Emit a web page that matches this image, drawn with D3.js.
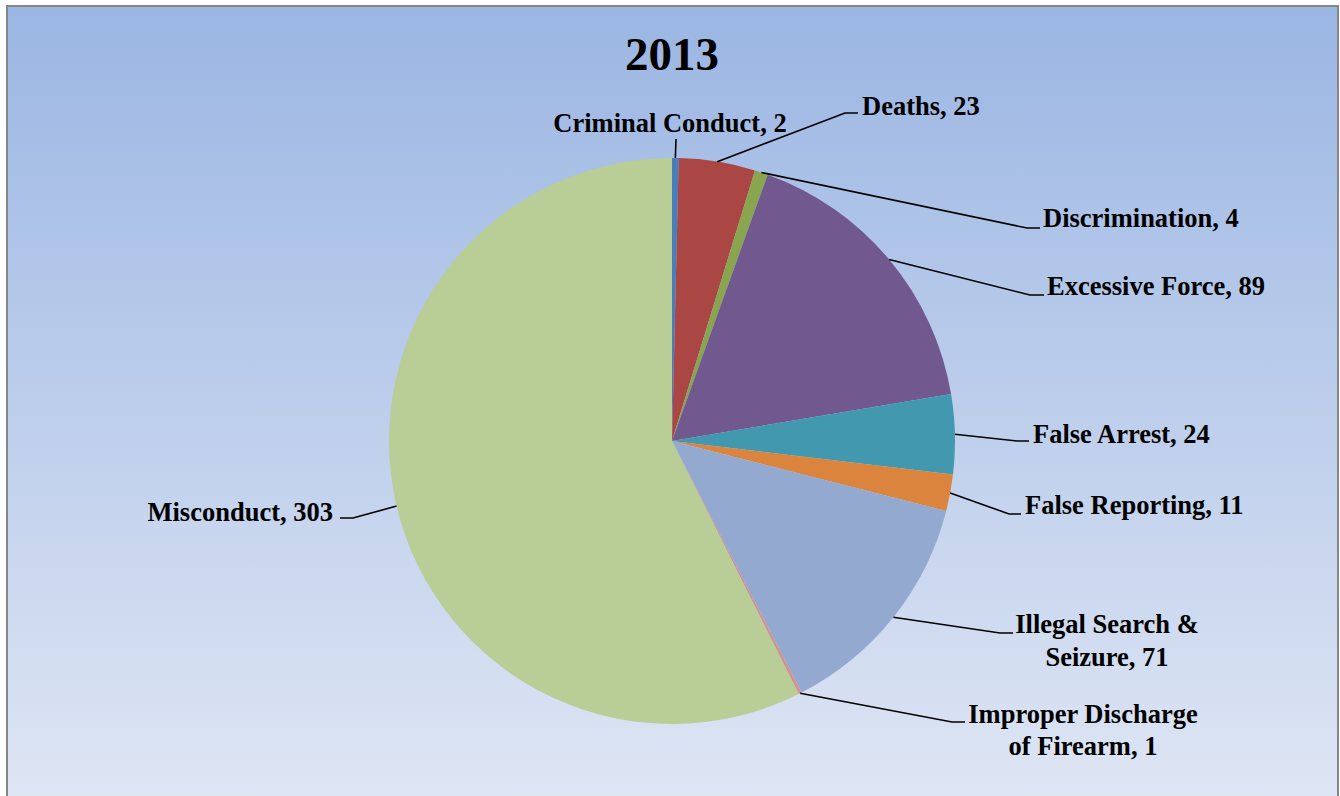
<!DOCTYPE html>
<html>
<head>
<meta charset="utf-8">
<script src="https://cdn.jsdelivr.net/npm/d3@7"></script>
<style>
  html, body { margin: 0; padding: 0; background: #ffffff; }
  svg { display: block; }
  text { font-family: "Liberation Serif", "Times New Roman", serif; font-weight: bold; fill: #000; }
</style>
</head>
<body>
<svg id="chart" width="1340" height="796"></svg>
<script>
// Complaint categories for 2013 and their counts
const categories = [
  "Criminal Conduct", "Deaths", "Discrimination", "Excessive Force",
  "False Arrest", "False Reporting", "Illegal Search & Seizure",
  "Improper Discharge of Firearm", "Misconduct"
];
const counts = [2, 23, 4, 89, 24, 11, 71, 1, 303];
const title = "2013";

// Label text lines per slice (the long names wrap onto two lines)
const labelLines = [
  ["Criminal Conduct, 2"],
  ["Deaths, 23"],
  ["Discrimination, 4"],
  ["Excessive Force, 89"],
  ["False Arrest, 24"],
  ["False Reporting, 11"],
  ["Illegal Search &", "Seizure, 71"],
  ["Improper Discharge", "of Firearm, 1"],
  ["Misconduct, 303"]
];

const colors = ["#4A7EBB", "#AA4643", "#89A54E", "#71588F", "#4198AF",
                "#DB843D", "#93A9CF", "#D19392", "#B9CD96"];

const svg = d3.select("#chart");
const W = 1340, H = 796;

// Plot-area background: vertical blue gradient
const defs = svg.append("defs");
const grad = defs.append("linearGradient")
  .attr("id", "bg").attr("x1", 0).attr("y1", 0).attr("x2", 0).attr("y2", 1);
grad.append("stop").attr("offset", "0%").attr("stop-color", "#9BB6E3");
grad.append("stop").attr("offset", "100%").attr("stop-color", "#DFE6F4");

svg.append("rect").attr("x", 0).attr("y", 0).attr("width", W).attr("height", H).attr("fill", "#ffffff");
svg.append("rect")
  .attr("x", 7).attr("y", 6).attr("width", 1331).attr("height", 800)
  .attr("fill", "url(#bg)")
  .attr("stroke", "#868686").attr("stroke-width", 2);

// Title
svg.append("text")
  .attr("x", 672).attr("y", 70)
  .attr("text-anchor", "middle")
  .style("font-size", "47px")
  .text(title);

const cx = 672, cy = 441, r = 283;
const g = svg.append("g").attr("transform", `translate(${cx},${cy})`);

const pie = d3.pie().sort(null).value(d => d.value);
const data = categories.map((c, i) => ({ name: c, value: counts[i], i }));
const arcs = pie(data);
const arc = d3.arc().innerRadius(0).outerRadius(r);

g.selectAll("path.slice")
  .data(arcs)
  .enter().append("path")
  .attr("class", "slice")
  .attr("d", arc)
  .attr("fill", d => colors[d.data.i])
  .attr("stroke", "none");

// Label layout: elbow point of the leader line, text anchor point and alignment
const labelLayout = [
  { elbow: null,        tx: 670,  ty: 132, anchor: "middle", end: [676, 139] },
  { elbow: [845, 113],  tx: 862,  ty: 115, anchor: "start",  end: [858, 113] },
  { elbow: [1027, 228], tx: 1043, ty: 227, anchor: "start",  end: [1040, 228] },
  { elbow: [1030, 295], tx: 1047, ty: 295, anchor: "start",  end: [1044, 295] },
  { elbow: [1017, 441], tx: 1033, ty: 443, anchor: "start",  end: [1029, 441] },
  { elbow: [1009, 514], tx: 1025, ty: 514, anchor: "start",  end: [1021, 514] },
  { elbow: [1000, 633], tx: 1107, ty: 633, anchor: "middle", end: [1013, 633], dy: 33 },
  { elbow: [952, 722],  tx: 1083, ty: 723, anchor: "middle", end: [965, 722], dy: 32 },
  { elbow: [353, 518],  tx: 333,  ty: 521, anchor: "end",    end: [340, 518] }
];

const lines = svg.append("g");
arcs.forEach((a, k) => {
  const mid = (a.startAngle + a.endAngle) / 2;
  const sx = cx + r * Math.sin(mid);
  const sy = cy - r * Math.cos(mid);
  const L = labelLayout[k];
  const pts = [[sx, sy]];
  if (L.elbow) pts.push(L.elbow);
  pts.push(L.end);
  lines.append("path")
    .attr("d", d3.line()(pts))
    .attr("fill", "none")
    .attr("stroke", "#000")
    .attr("stroke-width", 1.6);

  const t = svg.append("text")
    .attr("x", L.tx).attr("y", L.ty)
    .attr("text-anchor", L.anchor)
    .style("font-size", "26.5px");
  labelLines[k].forEach((ln, j) => {
    t.append("tspan").attr("x", L.tx).attr("y", L.ty + j * (L.dy || 0)).text(ln);
  });
});
</script>
</body>
</html>
